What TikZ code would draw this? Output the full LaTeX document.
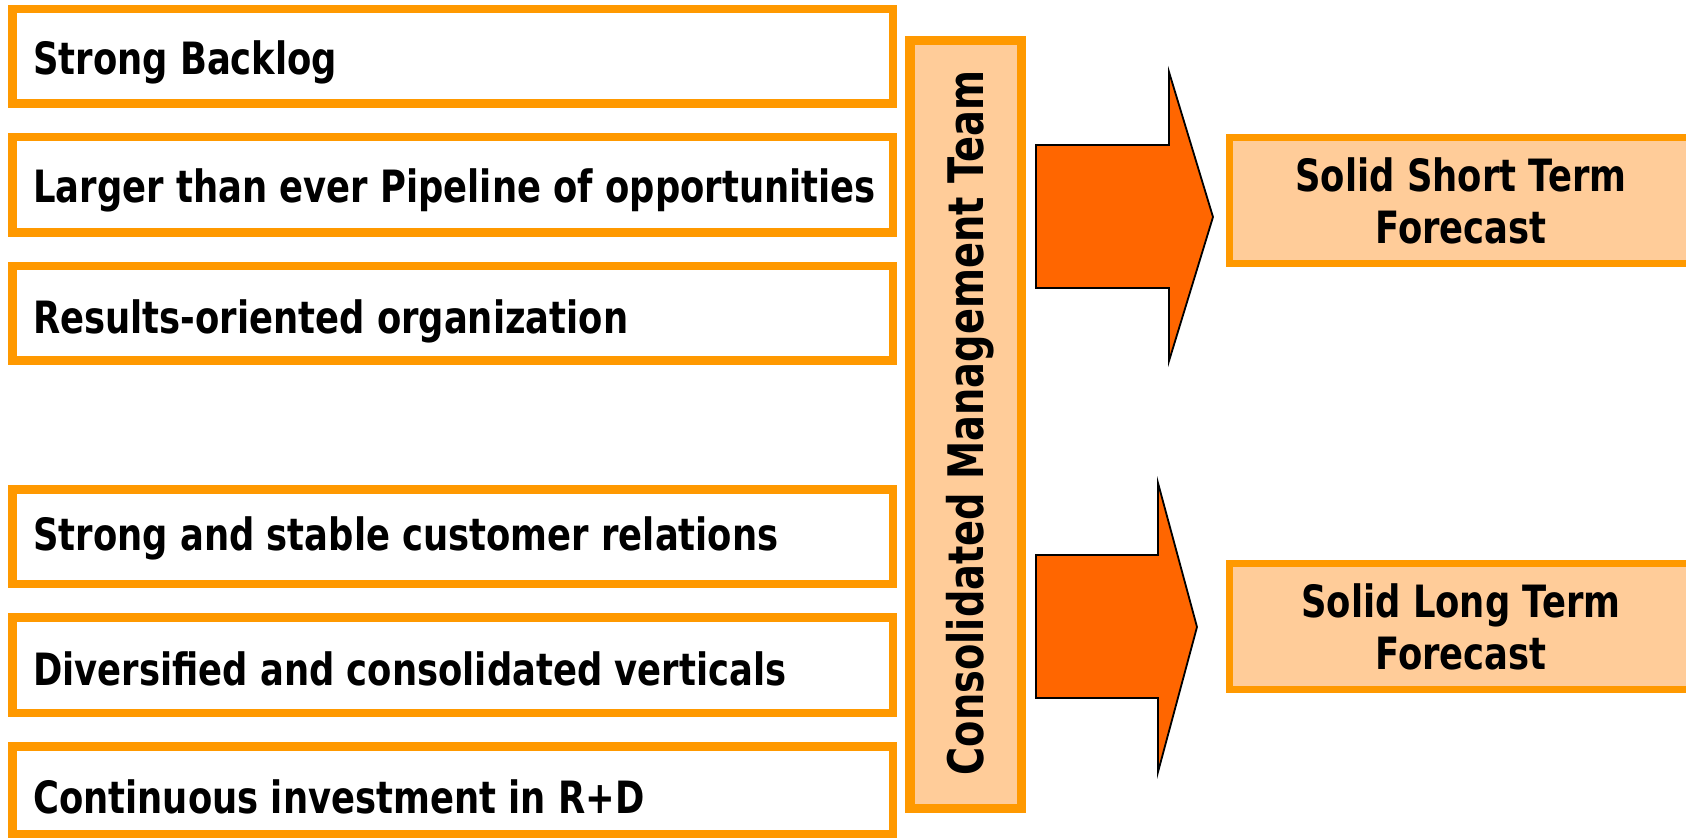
\documentclass[tikz,border=0pt]{standalone}
\usepackage{fontspec}
\newfontfamily\tah[FakeStretch=0.795]{DejaVu Sans}
\newfontfamily\tahv[FakeStretch=0.783]{DejaVu Sans}
\definecolor{orng}{HTML}{FF9900}
\definecolor{peach}{HTML}{FFCC99}
\definecolor{arrowfill}{HTML}{FF6600}
\begin{document}
\begin{tikzpicture}[x=1pt,y=1pt,
  leftbox/.style={draw=orng, line width=8.5pt, fill=white, minimum width=880.5pt, minimum height=94.5pt, inner sep=0pt},
  lefttext/.style={anchor=base west, inner sep=0pt, font=\tah\bfseries\fontsize{44.5}{52}\selectfont},
  teambox/.style={draw=orng, line width=9.5pt, fill=peach, minimum width=111.5pt, minimum height=767.5pt, inner sep=0pt},
  teamtext/.style={rotate=90, anchor=base, inner sep=0pt, font=\tahv\bfseries\fontsize{49}{56}\selectfont},
  bigarrow/.style={draw=black, line width=1.8pt, fill=arrowfill, line join=miter},
  resultbox/.style={draw=orng, line width=7pt, fill=peach, minimum width=463pt, minimum height=126pt, inner sep=0pt, align=center, font=\tah\bfseries\fontsize{44.5}{52}\selectfont}]
\useasboundingbox (0,0) rectangle (1686,839);
\clip (0,0) rectangle (1686,839);
\fill[white] (0,0) rectangle (1686,839);

% left boxes
\node[leftbox] (b1) at (452.5,782.5) {};
\node[leftbox, minimum height=95.5pt] (b2) at (452.5,654) {};
\node[leftbox] (b3) at (452.5,525.5) {};
\node[leftbox] (b4) at (452.5,302.5) {};
\node[leftbox, minimum height=95.5pt] (b5) at (452.5,174) {};
\node[leftbox, minimum height=87.5pt] (b6) at (452.5,49) {};

\node[lefttext] (t1) at (33,764) {Strong Backlog};
\node[lefttext] (t2) at (33,636) {Larger than ever Pipeline of opportunities};
\node[lefttext] (t3) at (33,505) {Results-oriented organization};
\node[lefttext] (t4) at (33,289) {Strong and stable customer relations};
\node[lefttext] (t5) at (33,154) {Diversified and consolidated verticals};
\node[lefttext] (t6) at (33,26) {Continuous investment in R+D};

% team box
\node[teambox] (team) at (965.5,414.5) {};
\node[teamtext] (teamlabel) at (983,416) {Consolidated Management Team};

% arrows
\draw[bigarrow] (1036,694) -- (1169,694) -- (1169,767) -- (1213,622) -- (1169,478) -- (1169,551) -- (1036,551) -- cycle;
\draw[bigarrow] (1036,284) -- (1158,284) -- (1158,356) -- (1197,212) -- (1158,67) -- (1158,141) -- (1036,141) -- cycle;

% result boxes
\node[resultbox] (r1) at (1461,638.5) {Solid Short Term\\Forecast};
\node[resultbox] (r2) at (1461,212.5) {Solid Long Term\\Forecast};
\end{tikzpicture}
\end{document}
